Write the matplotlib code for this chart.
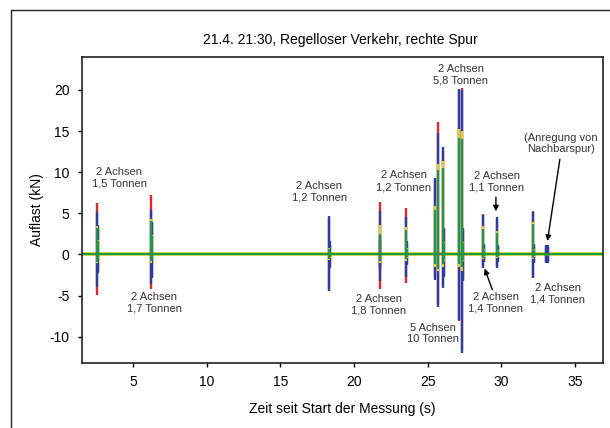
import matplotlib
matplotlib.use("Agg")
import matplotlib.pyplot as plt
from matplotlib.patches import Rectangle

plt.rcParams['font.family'] = ['Liberation Sans', 'DejaVu Sans']
plt.rcParams['axes.unicode_minus'] = False

# spike times (s) incl. short decay echoes right after each axle
spike_t = [2.55, 2.61, 6.22, 6.30, 18.33, 18.39, 21.73, 21.79, 23.50, 23.56,
           25.48, 25.68, 26.02, 26.09, 27.10, 27.30, 27.37,
           28.74, 28.80, 29.70, 29.76, 32.14, 32.20, 33.06, 33.14]

red_hi = [6.2, 3.0, 7.2, 3.9, 4.4, 1.2, 6.4, 1.8, 5.6, 1.3,
          9.0, 16.1, 12.6, 3.0, 20.0, 20.2, 3.0,
          4.9, 1.0, 4.3, 0.9, 5.3, 1.0, 0.8, 0.8]
red_lo = [-4.9, -2.0, -4.2, -2.8, -4.2, -1.2, -4.2, -1.6, -3.5, -1.0,
          -2.8, -6.0, -3.8, -2.5, -8.1, -11.5, -3.0,
          -1.4, -0.7, -1.4, -0.7, -2.7, -0.9, -0.8, -0.8]
blue_hi = [5.1, 3.6, 5.4, 3.9, 4.7, 1.6, 5.3, 2.2, 4.6, 1.6,
           9.3, 14.8, 13.0, 3.2, 20.1, 20.0, 3.2,
           4.8, 1.3, 4.5, 1.1, 5.2, 1.3, 1.1, 1.1]
blue_lo = [-4.0, -2.2, -3.6, -2.9, -4.5, -1.6, -3.2, -2.0, -2.8, -1.3,
           -3.1, -6.4, -4.1, -2.8, -8.0, -12.0, -3.2,
           -1.6, -0.9, -1.7, -0.9, -2.9, -1.1, -1.0, -1.0]
yellow_hi = [3.4, 1.7, 4.3, 2.3, 0.8, 0.4, 3.6, 1.1, 3.3, 0.8,
             5.9, 11.0, 11.3, 1.5, 15.3, 15.0, 1.5,
             3.4, 0.6, 2.8, 0.5, 4.0, 0.6, 0.2, 0.2]
yellow_lo = [-1.0, -0.5, -1.0, -0.6, -0.7, -0.4, -1.0, -0.5, -0.8, -0.4,
             -1.5, -2.0, -1.5, -0.8, -1.5, -2.0, -0.8,
             -0.5, -0.3, -0.4, -0.3, -0.5, -0.3, -0.2, -0.2]
green_hi = [3.2, 1.6, 4.1, 2.2, 0.7, 0.4, 2.5, 1.0, 3.0, 0.7,
            5.4, 10.3, 10.5, 1.4, 14.2, 14.0, 1.4,
            3.1, 0.5, 2.6, 0.4, 3.7, 0.5, 0.2, 0.2]
green_lo = [-0.9, -0.5, -0.8, -0.5, -0.6, -0.3, -0.8, -0.4, -0.6, -0.3,
            -1.2, -1.8, -1.2, -0.7, -1.2, -1.5, -0.7,
            -0.4, -0.2, -0.3, -0.2, -0.4, -0.2, -0.2, -0.2]

# annotations: text, x, y
labels = ['2 Achsen\n1,5 Tonnen', '2 Achsen\n1,7 Tonnen', '2 Achsen\n1,2 Tonnen',
          '2 Achsen\n1,2 Tonnen', '2 Achsen\n1,8 Tonnen', '5 Achsen\n10 Tonnen',
          '2 Achsen\n5,8 Tonnen', '2 Achsen\n1,1 Tonnen', '2 Achsen\n1,4 Tonnen',
          '2 Achsen\n1,4 Tonnen', '(Anregung von\nNachbarspur)']
label_x = [4.05, 6.43, 17.65, 23.37, 21.67, 25.34, 27.24, 29.7, 29.63, 33.84, 34.05]
label_y = [9.3, -5.9, 7.6, 8.9, -6.1, -9.6, 21.85, 8.85, -5.9, -4.8, 13.5]

# arrows: start -> end
arrow_from = [(29.63, 7.3), (29.45, -4.6), (34.0, 11.9)]
arrow_to = [(29.63, 4.9), (28.8, -1.4), (33.1, 1.3)]

fig = plt.figure(figsize=(6.1, 4.28), dpi=100)
fig.patches.append(Rectangle((11 / 610, -0.1), 1.2, 1 - 10 / 428 + 0.1,
                             transform=fig.transFigure, fill=False,
                             edgecolor='#222222', linewidth=1.0))
ax = fig.add_axes([82 / 610, 1 - 363 / 428, 521 / 610, 306 / 428])

ax.axhline(0, color='#d8d42c', lw=2.6, zorder=1)
ax.axhline(0, color='#1e9a3c', lw=1.6, zorder=1.5)
ax.vlines(spike_t, red_lo, red_hi, color='#e4252b', lw=1.7, zorder=2)
ax.vlines(spike_t, blue_lo, blue_hi, color='#2b3fa0', lw=1.7, zorder=3)
ax.vlines(spike_t, yellow_lo, yellow_hi, color='#d8d42c', lw=1.5, zorder=4)
ax.vlines(spike_t, green_lo, green_hi, color='#1e9a3c', lw=1.5, zorder=5)

for txt, x, y in zip(labels, label_x, label_y):
    ax.text(x, y, txt, ha='center', va='center', fontsize=8,
            color='#333333', linespacing=1.2, zorder=6)
for p0, p1 in zip(arrow_from, arrow_to):
    ax.annotate('', xy=p1, xytext=p0,
                arrowprops=dict(arrowstyle='-|>', color='black', lw=1.0,
                                mutation_scale=8), zorder=7)

ax.set_xlim(1.53, 36.9)
ax.set_ylim(-13.2, 24.0)
ax.set_xticks([5, 10, 15, 20, 25, 30, 35])
ax.set_yticks([-10, -5, 0, 5, 10, 15, 20])
ax.tick_params(direction='out', length=3, width=1, labelsize=10,
               top=False, right=False, pad=6)
for s in ax.spines.values():
    s.set_linewidth(1.2)
    s.set_color('#222222')

ax.set_xlabel('Zeit seit Start der Messung (s)', fontsize=10, labelpad=9)
ax.set_ylabel('Auflast (kN)', fontsize=10, labelpad=4)
fig.text(340 / 610, 1 - 40 / 428, '21.4. 21:30, Regelloser Verkehr, rechte Spur',
         ha='center', va='center', fontsize=10)

fig.savefig('out.png', dpi=100)
